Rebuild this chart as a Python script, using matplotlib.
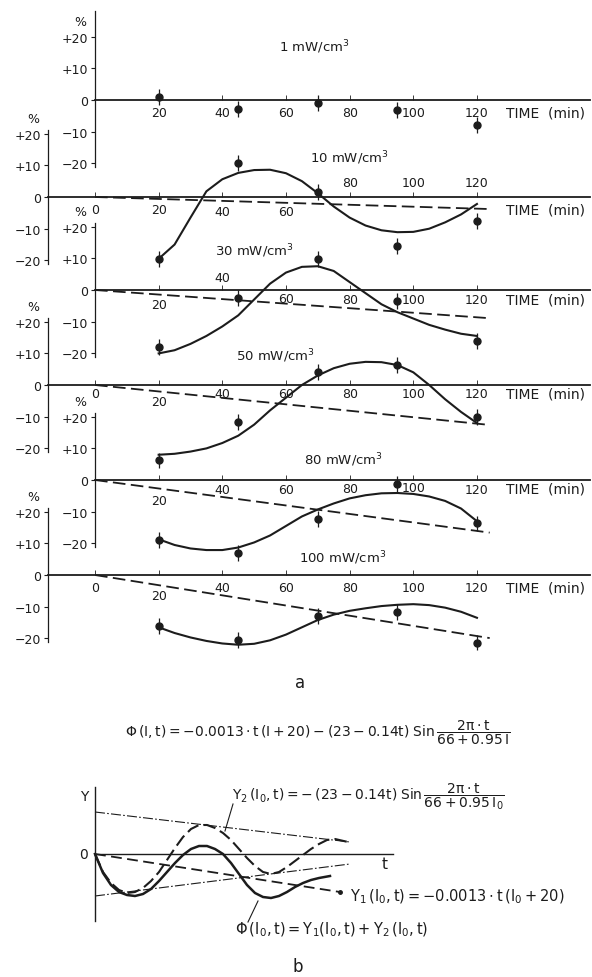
import matplotlib
matplotlib.use('Agg')
import matplotlib.pyplot as plt

plt.rcParams['font.family'] = ['DejaVu Sans']
plt.rcParams['mathtext.default'] = 'regular'

W, H = 592, 978
PX = 3.183   # pixels per minute
PY = 3.17    # pixels per percent

# ---- data, panel a ----
times = [20, 45, 70, 95, 120]
err = [2.5, 2.5, 2.5, 2.5, 2.5]
titles = ['1', '10', '30', '50', '80', '100']

meas_1 = [1.0, -2.9, -1.0, -3.2, -7.9]
meas_10 = [-19.5, 10.8, 1.6, -15.5, -7.6]
meas_30 = [-18.0, -2.6, 9.8, -3.5, -16.0]
meas_50 = [-23.8, -11.7, 4.1, 6.3, -10.2]
meas_80 = [-19.0, -22.9, -12.4, -1.3, -13.7]
meas_100 = [-16.2, -20.6, -13.0, -11.7, -21.3]

curve_t = [20, 25, 30, 35, 40, 45, 50, 55, 60, 65, 70,
           75, 80, 85, 90, 95, 100, 105, 110, 115, 120]
fit_10 = [-19.5, -15.0, -6.5, 1.8, 5.6, 7.6, 8.5, 8.6, 7.5, 5.0, 1.2,
          -3.0, -6.5, -9.0, -10.5, -11.1, -11.0, -10.0, -8.0, -5.5, -2.2]
fit_30 = [-20.0, -19.0, -17.0, -14.5, -11.5, -8.0, -3.0, 2.0, 5.5, 7.3, 7.5,
          6.0, 2.5, -1.0, -4.5, -7.0, -9.0, -11.0, -12.5, -13.8, -14.5]
fit_50 = [-22.0, -21.7, -21.0, -20.0, -18.3, -16.0, -12.5, -8.0, -4.0, 0.0, 3.0,
          5.3, 6.7, 7.3, 7.2, 6.3, 4.0, 0.0, -4.5, -8.5, -12.0]
fit_80 = [-18.7, -20.5, -21.6, -22.1, -22.1, -21.3, -19.7, -17.5, -14.5, -11.5, -9.3,
          -7.4, -5.8, -4.8, -4.2, -4.1, -4.4, -5.2, -6.6, -9.0, -13.0]
fit_100 = [-16.5, -18.3, -19.7, -20.8, -21.6, -22.0, -21.7, -20.6, -18.8, -16.5, -14.2,
           -12.5, -11.3, -10.5, -9.8, -9.4, -9.2, -9.5, -10.3, -11.6, -13.5]

trend_t = [0, 124]
trend_10 = [0, -3.8]
trend_30 = [0, -8.9]
trend_50 = [0, -12.6]
trend_80 = [0, -16.6]
trend_100 = [0, -19.9]

meas = [meas_1, meas_10, meas_30, meas_50, meas_80, meas_100]
fits = [None, fit_10, fit_30, fit_50, fit_80, fit_100]
trends = [None, trend_10, trend_30, trend_50, trend_80, trend_100]

# ---- data, panel b (schematic units) ----
env_t = [0, 255]
env_up = [42, 12]
env_lo = [-42, -10]
y1_t = [0, 245]
y1_v = [0, -38]
y2_t = [0, 8, 16, 24, 32, 40, 48, 56, 64, 72, 80, 88, 96, 104, 112, 120, 128,
        136, 144, 152, 160, 168, 176, 184, 192, 200, 208, 216, 224, 232, 240, 253]
y2_v = [0, -18, -29, -36, -39, -38, -34, -27, -18, -6, 6, 17, 25, 29, 29, 26, 21,
        14, 5, -4, -12, -18, -20, -18, -13, -7, -1, 5, 10, 14, 15, 12]
phi_t = [0, 8, 16, 24, 32, 40, 48, 56, 64, 72, 80, 88, 96, 104, 112, 120, 128,
         136, 144, 152, 160, 168, 176, 184, 192, 200, 208, 216, 224, 235]
phi_v = [0, -19, -31, -38, -41, -42, -40, -35, -27, -18, -9, -1, 5, 8, 8, 5, 0,
         -9, -20, -31, -39, -43, -44, -42, -38, -33, -29, -26, -24, -22]

# ---- layout ----
zeros = [101, 198, 291, 386, 481, 576]
axis_x = [0, -14.8, 0, -14.8, 0, -14.8]
title_pos = [(69, 17), (80, 12.7), (50, 12.4), (56.6, 9.5), (78, 6.7), (77.7, 5.7)]
xlab_off = [
    {20: -12, 40: -12, 60: -12, 80: -12, 100: -12, 120: -12},
    {0: -12, 20: -12, 40: -14, 60: -14, 80: 15, 100: 15, 120: 15},
    {20: -14, 40: 13, 60: -8, 80: -9, 100: -9, 120: -9},
    {0: -9, 20: -17, 40: -8, 60: -8, 80: -9, 100: -9, 120: -9},
    {20: -20, 40: -9, 60: -9, 80: -8, 100: -7, 120: -9},
    {0: -12, 20: -21, 40: -12, 60: -12, 80: -12, 100: -12, 120: -12},
]
time_off = [-12, -12, -9, -9, -8, -12]
ink = '#1c1c1c'

fig = plt.figure(figsize=(W / 100, H / 100), dpi=100)
fig.patch.set_facecolor('white')

for i in range(6):
    z = zeros[i]
    ax = fig.add_axes([0, 1 - (z + 30 * PY) / H, 1, 60 * PY / H])
    ax.set_xlim(-95 / PX, (W - 95) / PX)
    ax.set_ylim(-30, 30)
    ax.patch.set_alpha(0)
    for s in ['top', 'right']:
        ax.spines[s].set_visible(False)
    ax.spines['left'].set_position(('data', axis_x[i]))
    ax.spines['left'].set_bounds(-21, 28 if i == 0 else 21)
    ax.spines['bottom'].set_position(('data', 0))
    ax.spines['bottom'].set_bounds(axis_x[i], (W - 97) / PX)
    ax.spines['left'].set_linewidth(0.9)
    ax.spines['bottom'].set_linewidth(1.3)
    ax.spines['left'].set_color(ink)
    ax.spines['bottom'].set_color(ink)

    ax.set_yticks([20, 10, 0, -10, -20])
    ax.set_yticklabels(['+20', '+10', '0', '\u221210', '\u221220'])
    ax.tick_params(axis='y', direction='out', length=3, width=0.8, pad=2,
                   labelsize=9, colors=ink)
    ax.set_xticks(sorted(xlab_off[i].keys()))
    ax.tick_params(axis='x', direction='in', length=3.5, width=0.6,
                   labelbottom=False, colors=ink)

    for t, off in xlab_off[i].items():
        ax.annotate(str(t), (t, 0), xytext=(0, off), textcoords='offset pixels',
                    ha='center', va='center', fontsize=9, color=ink)
    ax.annotate('TIME  (min)', (129, 0), xytext=(0, time_off[i]),
                textcoords='offset pixels', ha='left', va='center',
                fontsize=10, color=ink)
    ax.annotate('%', (axis_x[i], 20), xytext=(-15, 15), textcoords='offset pixels',
                ha='center', va='center', fontsize=9, color=ink)
    tx, ty = title_pos[i]
    ax.text(tx, ty, titles[i] + ' mW/cm$^3$', ha='center', va='center',
            fontsize=9.5, color=ink)

    ax.errorbar(times, meas[i], yerr=err, fmt='o', color=ink, ms=5,
                elinewidth=0.9, capsize=0, zorder=5)
    if fits[i] is not None:
        ax.plot(curve_t, fits[i], '-', color=ink, lw=1.5, solid_joinstyle='round')
        ax.plot(trend_t, trends[i], '--', color=ink, lw=1.3, dashes=(7, 3))

fig.text(300 / W, 1 - 683 / H, 'a', ha='center', va='center', fontsize=12, color=ink)
fig.text(318 / W, 1 - 733 / H,
         r'$\Phi\,(I,t) = -0.0013\cdot t\,(I+20) - (23-0.14t)\;Sin\,\dfrac{2\pi\cdot t}{66+0.95\,I}$',
         ha='center', va='center', fontsize=10, color=ink)

# ---- panel b ----
axb = fig.add_axes([0, 1 - (855 + 100) / H, 1, 200 / H])
axb.set_xlim(-95, W - 95)
axb.set_ylim(-100, 100)
axb.patch.set_alpha(0)
for s in ['top', 'right']:
    axb.spines[s].set_visible(False)
axb.spines['left'].set_position(('data', 0))
axb.spines['left'].set_bounds(-67, 67)
axb.spines['bottom'].set_position(('data', 0))
axb.spines['bottom'].set_bounds(0, 298)
for s in ['left', 'bottom']:
    axb.spines[s].set_linewidth(1.0)
    axb.spines[s].set_color(ink)
axb.set_xticks([])
axb.set_yticks([])

axb.plot(env_t, env_up, color=ink, lw=0.8, dashes=(9, 2, 1.5, 2))
axb.plot(env_t, env_lo, color=ink, lw=0.8, dashes=(9, 2, 1.5, 2))
axb.plot(y1_t, y1_v, color=ink, lw=1.3, dashes=(6, 3))
axb.plot(y1_t[-1:], y1_v[-1:], 'o', color=ink, ms=2.5)
axb.plot(y2_t, y2_v, color=ink, lw=1.5, dashes=(6, 2.5))
axb.plot(phi_t, phi_v, color=ink, lw=1.8, solid_joinstyle='round')
axb.plot([138, 130], [50, 23], color=ink, lw=0.8)
axb.plot([153, 163], [-68, -47], color=ink, lw=0.8)

axb.text(-11, 58, 'Y', ha='center', va='center', fontsize=10, color=ink)
axb.text(-11, 0, '0', ha='center', va='center', fontsize=10, color=ink)
axb.text(290, -10, 't', ha='center', va='center', fontsize=11, color=ink)
axb.text(137, 58,
         r'$Y_2\,(I_0,t) = -\,(23-0.14t)\;Sin\,\dfrac{2\pi\cdot t}{66+0.95\,I_0}$',
         ha='left', va='center', fontsize=10, color=ink)
axb.text(255, -42, r'$Y_1\,(I_0,t) = -0.0013\cdot t\,(I_0+20)$',
         ha='left', va='center', fontsize=10.5, color=ink)
axb.text(140, -75, r'$\Phi\,(I_0,t) = Y_1(I_0,t) + Y_2\,(I_0,t)$',
         ha='left', va='center', fontsize=10.5, color=ink)
fig.text(298 / W, 1 - 967 / H, 'b', ha='center', va='center', fontsize=12, color=ink)

fig.savefig('out.png', dpi=100)
